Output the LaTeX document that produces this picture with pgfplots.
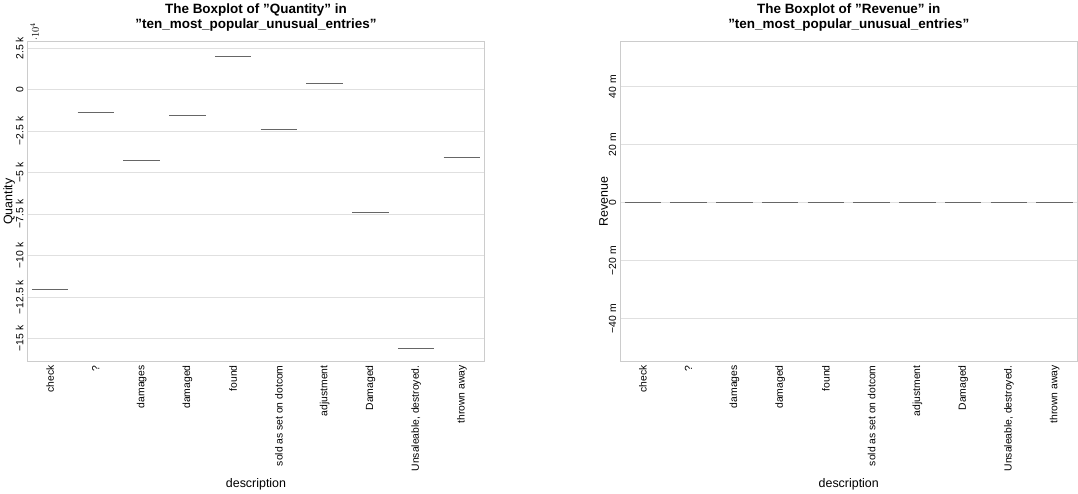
\documentclass[border=0pt]{standalone}
\usepackage{pgfplots}
\pgfplotsset{compat=1.18}
\usepackage{fontspec}
\setmainfont{Liberation Sans}
\newcommand{\bx}[2]{\addplot[draw=black!60,line width=1pt,mark=none] coordinates {({#1-0.4},#2) ({#1+0.4},#2)};}
\pgfplotsset{
  base/.style={scale only axis,width=440bp,height=308bp,
    axis line style={black!20,line width=0.9pt},
    ymajorgrids,grid style={black!12,line width=0.7pt},
    major tick length=0pt,
    xmin=-0.5,xmax=9.5,xtick={0,...,9},
    xticklabels={check,?,damages,damaged,found,sold as set on dotcom,adjustment,Damaged,{Unsaleable, destroyed.},thrown away},
    x tick label style={rotate=90,anchor=east,font=\fontsize{10}{12}\selectfont},
    y tick label style={rotate=90,anchor=south,font=\fontsize{10}{12}\selectfont},
    /pgf/number format/assume math mode=true,
    xlabel={description},
    label style={font=\fontsize{12}{14}\selectfont},
    title style={font=\bfseries\fontsize{13}{15}\selectfont,align=center},
  }
}
\begin{document}
\begin{tikzpicture}
\begin{axis}[base,at={(0,0)},
  title={The Boxplot of "Quantity" in\\"ten\_most\_popular\_unusual\_entries"},
  ylabel={Quantity},ylabel style={yshift=-6pt},
  ymin=-16400,ymax=2900,
  ytick={-15000,-12500,-10000,-7500,-5000,-2500,0,2500},
  yticklabels={−15 k,−12.5 k,−10 k,−7.5 k,−5 k,−2.5 k,0,2.5 k}]
\bx{0}{-12030}
\bx{1}{-1390}
\bx{2}{-4280}
\bx{3}{-1575}
\bx{4}{2015}
\bx{5}{-2390}
\bx{6}{380}
\bx{7}{-7430}
\bx{8}{-15620}
\bx{9}{-4090}
\end{axis}
\begin{axis}[base,at={(570bp,0)},
  title={The Boxplot of "Revenue" in\\"ten\_most\_popular\_unusual\_entries"},
  ylabel={Revenue},ylabel style={yshift=-6pt},
  ymin=-54.9,ymax=55.6,
  ytick={-40,-20,0,20,40},
  yticklabels={−40 m,−20 m,0,20 m,40 m}]
\bx{0}{0}
\bx{1}{0}
\bx{2}{0}
\bx{3}{0}
\bx{4}{0}
\bx{5}{0}
\bx{6}{0}
\bx{7}{0}
\bx{8}{0}
\bx{9}{0}
\end{axis}
\end{tikzpicture}
\end{document}
